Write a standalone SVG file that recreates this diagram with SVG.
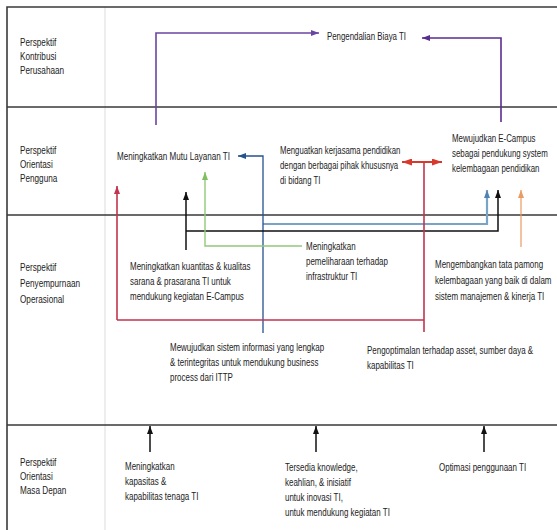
<svg xmlns="http://www.w3.org/2000/svg" width="557" height="530" viewBox="0 0 557 530">
<style>
text{font-family:"Liberation Sans",Arial,sans-serif;font-size:10.5px;fill:#222}
.frame{stroke:#3a3a3a;stroke-width:1.6;fill:none}
.div{stroke:#dcdcdc;stroke-width:1;fill:none}
.c{fill:none;stroke-linejoin:miter}
.pu{stroke:#6a45a3;stroke-width:1.6}
.pu2{stroke:#5a2d8f;stroke-width:1.6}
.bl{stroke:#24528f;stroke-width:1.3}
.lb{stroke:#7aa3c8;stroke-width:2.2}
.bk{stroke:#111;stroke-width:1.5}
.gr{stroke:#93c979;stroke-width:1.4}
.or{stroke:#eb9a62;stroke-width:1.2}
.rd{stroke:#c2344f;stroke-width:1.6}
.rd2{stroke:#d8392d;stroke-width:1.8}
</style>
<defs>
<marker id="aPu" viewBox="0 0 8 6" refX="8" refY="3" markerWidth="8" markerHeight="6" markerUnits="userSpaceOnUse" orient="auto"><path d="M0 0L8 3L0 6z" fill="#6a45a3"/></marker>
<marker id="aPu2" viewBox="0 0 8 6" refX="8" refY="3" markerWidth="8" markerHeight="6" markerUnits="userSpaceOnUse" orient="auto"><path d="M0 0L8 3L0 6z" fill="#5a2d8f"/></marker>
<marker id="aBl" viewBox="0 0 8 6" refX="8" refY="3" markerWidth="8" markerHeight="6" markerUnits="userSpaceOnUse" orient="auto"><path d="M0 0L8 3L0 6z" fill="#24528f"/></marker>
<marker id="aLb" viewBox="0 0 8 6" refX="8" refY="3" markerWidth="8" markerHeight="6" markerUnits="userSpaceOnUse" orient="auto"><path d="M0 0L8 3L0 6z" fill="#4f82b3"/></marker>
<marker id="aBk" viewBox="0 0 8 6" refX="8" refY="3" markerWidth="8" markerHeight="6" markerUnits="userSpaceOnUse" orient="auto"><path d="M0 0L8 3L0 6z" fill="#111"/></marker>
<marker id="aGr" viewBox="0 0 8 6" refX="8" refY="3" markerWidth="8" markerHeight="6" markerUnits="userSpaceOnUse" orient="auto"><path d="M0 0L8 3L0 6z" fill="#7fbf5f"/></marker>
<marker id="aOr" viewBox="0 0 8 6" refX="8" refY="3" markerWidth="8" markerHeight="6" markerUnits="userSpaceOnUse" orient="auto"><path d="M0 0L8 3L0 6z" fill="#eb9a62"/></marker>
<marker id="aRd" viewBox="0 0 8 6" refX="8" refY="3" markerWidth="8" markerHeight="6" markerUnits="userSpaceOnUse" orient="auto"><path d="M0 0L8 3L0 6z" fill="#c2344f"/></marker>
<marker id="aRd2" viewBox="0 0 10 7" refX="10" refY="3.5" markerWidth="10" markerHeight="7" markerUnits="userSpaceOnUse" orient="auto-start-reverse"><path d="M0 0L10 3.5L0 7z" fill="#d8392d"/></marker>
</defs>
<rect width="557" height="530" fill="#fff"/>
<g id="grid">
<path class="div" d="M105 7V530"/>
<path class="frame" d="M7 530V7H557"/>
<path class="frame" d="M7 107H557M7 215H557M7 425H557"/>
</g>
<g id="row-labels">
<g id="lbl1" transform="translate(20 0) scale(0.78 1)"><text><tspan x="0" y="46">Perspektif</tspan><tspan x="0" y="60">Kontribusi</tspan><tspan x="0" y="74">Perusahaan</tspan></text></g>
<g id="lbl2" transform="translate(20 0) scale(0.78 1)"><text><tspan x="0" y="154">Perspektif</tspan><tspan x="0" y="168">Orientasi</tspan><tspan x="0" y="182">Pengguna</tspan></text></g>
<g id="lbl3" transform="translate(20 0) scale(0.78 1)"><text><tspan x="0" y="271">Perspektif</tspan><tspan x="0" y="287">Penyempurnaan</tspan><tspan x="0" y="303">Operasional</tspan></text></g>
<g id="lbl4" transform="translate(20 0) scale(0.78 1)"><text><tspan x="0" y="466">Perspektif</tspan><tspan x="0" y="480">Orientasi</tspan><tspan x="0" y="494">Masa Depan</tspan></text></g>
</g>
<g id="connectors">
<path class="c pu" d="M156 125V33H319" marker-end="url(#aPu)"/>
<path class="c pu2" d="M501 122V38H422" marker-end="url(#aPu2)"/>
<path class="c lb" d="M263 224H487V190" marker-end="url(#aLb)"/>
<path class="c bl" d="M263 333V156H238" marker-end="url(#aBl)"/>
<path class="c bk" d="M186 250V192" marker-end="url(#aBk)"/>
<path class="c bk" d="M186 231H498V190" marker-end="url(#aBk)"/>
<path class="c gr" d="M302 246H205V172" marker-end="url(#aGr)"/>
<path class="c or" d="M521 247V190" marker-end="url(#aOr)"/>
<path class="c rd" d="M424 332V162M117 320H424"/>
<path class="c rd" d="M117 320V186" marker-end="url(#aRd)"/>
<path class="c rd2" d="M402 162H442" marker-start="url(#aRd2)" marker-end="url(#aRd2)"/>
<path class="c bk" d="M150 452V426" marker-end="url(#aBk)"/>
<path class="c bk" d="M316 452V426" marker-end="url(#aBk)"/>
<path class="c bk" d="M484 452V426" marker-end="url(#aBk)"/>
</g>
<g id="n-biaya" transform="translate(327 0) scale(0.75 1)"><text x="0" y="40">Pengendalian Biaya TI</text></g>
<g id="n-mutu" transform="translate(117 0) scale(0.77 1)"><text x="0" y="160">Meningkatkan Mutu Layanan TI</text></g>
<g id="n-kerjasama" transform="translate(280 0) scale(0.74 1)"><text><tspan x="0" y="154">Menguatkan kerjasama pendidikan</tspan><tspan x="0" y="169">dengan berbagai pihak khususnya</tspan><tspan x="0" y="184">di bidang TI</tspan></text></g>
<g id="n-ecampus" transform="translate(452 0) scale(0.75 1)"><text><tspan x="0" y="142">Mewujudkan E-Campus</tspan><tspan x="0" y="157">sebagai pendukung system</tspan><tspan x="0" y="172">kelembagaan pendidikan</tspan></text></g>
<g id="n-kuantitas" transform="translate(130 0) scale(0.76 1)"><text><tspan x="0" y="270">Meningkatkan kuantitas &amp; kualitas</tspan><tspan x="0" y="285">sarana &amp; prasarana TI untuk</tspan><tspan x="0" y="300">mendukung kegiatan E-Campus</tspan></text></g>
<g id="n-pemeliharaan" transform="translate(306 0) scale(0.76 1)"><text><tspan x="0" y="250">Meningkatkan</tspan><tspan x="0" y="265">pemeliharaan terhadap</tspan><tspan x="0" y="280">infrastruktur TI</tspan></text></g>
<g id="n-tatapamong" transform="translate(435 0) scale(0.76 1)"><text><tspan x="0" y="268">Mengembangkan tata pamong</tspan><tspan x="0" y="284">kelembagaan yang baik di dalam</tspan><tspan x="0" y="300">sistem manajemen &amp; kinerja TI</tspan></text></g>
<g id="n-sisteminfo" transform="translate(170 0) scale(0.76 1)"><text><tspan x="0" y="351">Mewujudkan sistem informasi yang lengkap</tspan><tspan x="0" y="366">&amp; terintegritas untuk mendukung business</tspan><tspan x="0" y="381">process dari ITTP</tspan></text></g>
<g id="n-optimalasset" transform="translate(367 0) scale(0.76 1)"><text><tspan x="0" y="354">Pengoptimalan terhadap asset, sumber daya &amp;</tspan><tspan x="0" y="369">kapabilitas TI</tspan></text></g>
<g id="n-tenaga" transform="translate(125 0) scale(0.76 1)"><text><tspan x="0" y="470">Meningkatkan</tspan><tspan x="0" y="485">kapasitas &amp;</tspan><tspan x="0" y="500">kapabilitas tenaga TI</tspan></text></g>
<g id="n-knowledge" transform="translate(285 0) scale(0.76 1)"><text><tspan x="0" y="471">Tersedia knowledge,</tspan><tspan x="0" y="486">keahlian, &amp; inisiatif</tspan><tspan x="0" y="501">untuk inovasi TI,</tspan><tspan x="0" y="516">untuk mendukung kegiatan TI</tspan></text></g>
<g id="n-optimasi" transform="translate(439 0) scale(0.76 1)"><text x="0" y="471">Optimasi penggunaan TI</text></g>
</svg>
